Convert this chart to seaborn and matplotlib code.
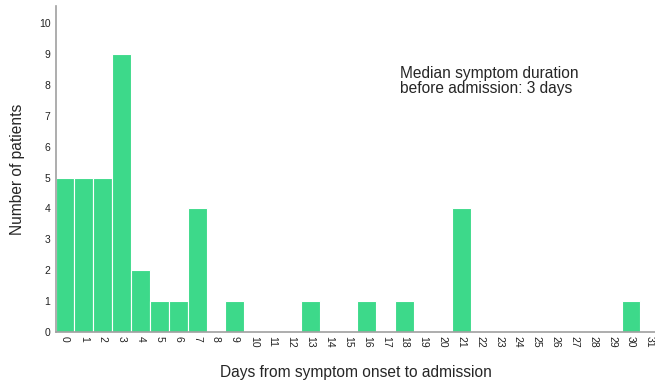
import pandas as pd
import matplotlib
matplotlib.use("Agg")
import matplotlib.pyplot as plt
import seaborn as sns

# Data
days = list(range(0, 32))
day_with_cases = [0, 1, 2, 3, 4, 5, 6, 7, 9, 13, 16, 18, 21, 30]
patients_with_cases = [5, 5, 5, 9, 2, 1, 1, 4, 1, 1, 1, 1, 4, 1]
y_ticks = list(range(0, 11))
note = "Median symptom duration\nbefore admission: 3 days"

counts = dict(zip(day_with_cases, patients_with_cases))
df = pd.DataFrame({"Day": [str(d) for d in days],
                   "Patients": [counts.get(d, 0) for d in days]})

sns.set_style("white")
plt.rcParams["font.family"] = ["Liberation Sans", "DejaVu Sans"]

fig = plt.figure(figsize=(6.55, 3.83), dpi=100)
ax = fig.add_axes([0.0855, 0.133, 0.9145, 0.851])
sns.barplot(data=df, x="Day", y="Patients", order=[str(d) for d in days],
            color="#3dd98a", saturation=1, width=1.0,
            edgecolor="white", linewidth=0.8, ax=ax)

ax.set_xlim(-0.48, 31.27)
ax.set_ylim(0, 10.55)
ax.set_yticks(y_ticks)
ax.tick_params(axis="both", length=0, labelsize=7.5, colors="#222222", pad=4)
ax.tick_params(axis="x", labelrotation=-90, pad=3)
for lab in ax.get_xticklabels():
    lab.set_verticalalignment("top")
ax.set_xlabel("Days from symptom onset to admission", fontsize=11.2, labelpad=12)
ax.set_ylabel("Number of patients", fontsize=11.2, labelpad=10)

for side in ["top", "right"]:
    ax.spines[side].set_visible(False)
for side in ["left", "bottom"]:
    ax.spines[side].set_color("#a0a0a0")
    ax.spines[side].set_linewidth(1.2)

ax.text(17.75, 8.6, note, fontsize=11.2, va="top", ha="left", linespacing=0.95)

fig.savefig("out.png", dpi=100)
